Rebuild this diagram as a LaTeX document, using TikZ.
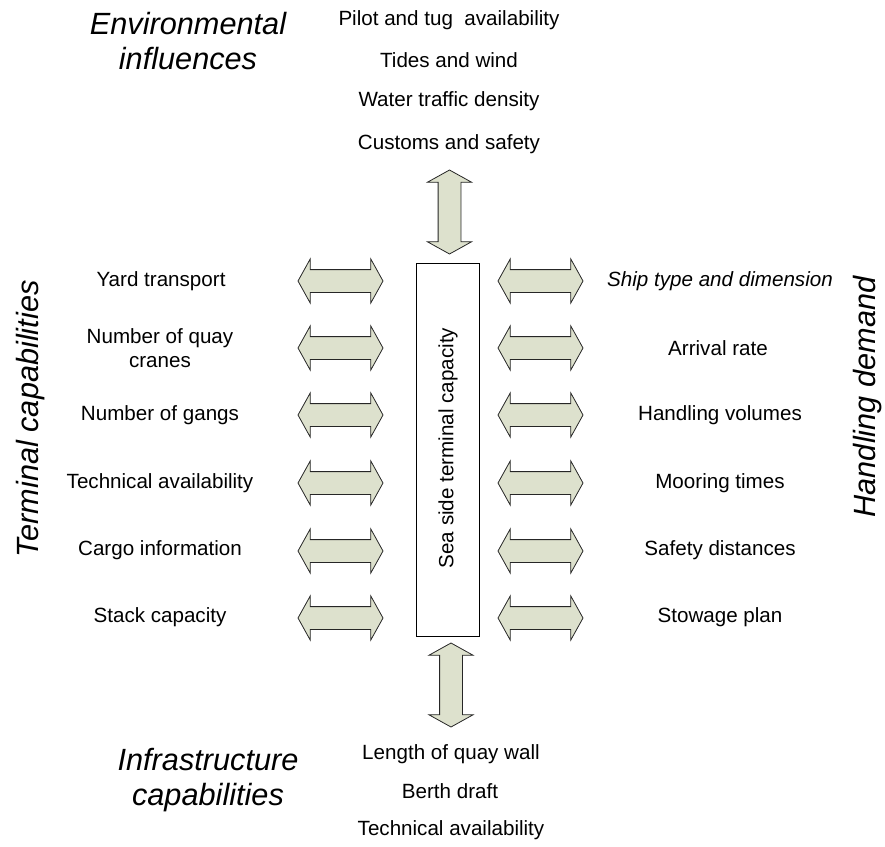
\documentclass[tikz,border=0pt]{standalone}
\usepackage{fontspec}
\setmainfont{Liberation Sans}
\usetikzlibrary{shapes.arrows}
\definecolor{arrowfill}{RGB}{221,225,205}
\tikzset{
  lbl/.style={font=\fontsize{20.6}{24}\selectfont, align=center, inner sep=0pt},
  biglbl/.style={font=\fontsize{30.7}{35}\selectfont\itshape, align=center, inner sep=0pt},
  dblarrow/.style={double arrow, draw=black!85, line width=0.8pt, fill=arrowfill,
    minimum height=85pt, inner xsep=0pt, inner ysep=11pt, outer sep=0pt,
    double arrow head extend=10.75pt, double arrow tip angle=122},
  capbox/.style={draw=black, line width=0.8pt, fill=white, minimum width=63pt, minimum height=373pt, inner sep=0pt}
}
\begin{document}
\begin{tikzpicture}[x=1pt,y=-1pt]
\useasboundingbox (0,0) rectangle (885,846);

% central box
\node[capbox] (box) at (448,450) {};
\node[lbl, rotate=90] (boxtxt) at (448,448) {Sea side terminal capacity};

% group labels
\node[biglbl] (env) at (188,41) {Environmental\\influences};
\node[biglbl] (infra) at (208,780) {Infrastructure\\capabilities};
\node[biglbl, rotate=90] (term) at (31,419) {Terminal capabilities};
\node[biglbl, rotate=90] (hand) at (868,397) {Handling demand};

% top list
\node[lbl] (t1) at (449,20) {Pilot and tug\ \ availability};
\node[lbl] (t2) at (449,60) {Tides and wind};
\node[lbl] (t3) at (449,101) {Water traffic density};
\node[lbl] (t4) at (449,144) {Customs and safety};

% bottom list
\node[lbl] (b1) at (451,754) {Length of quay wall};
\node[lbl] (b2) at (450,791) {Berth draft};
\node[lbl] (b3) at (451,830) {Technical availability};

% left list
\node[lbl] (l1) at (161,281) {Yard transport};
\node[lbl] (l2) at (160,348) {Number of quay\\cranes};
\node[lbl] (l3) at (160,415) {Number of gangs};
\node[lbl] (l4) at (160,483) {Technical availability};
\node[lbl] (l5) at (160,550) {Cargo information};
\node[lbl] (l6) at (160,617) {Stack capacity};

% right list
\node[lbl] (r1) at (720,281) {\itshape Ship type and dimension};
\node[lbl] (r2) at (718,348) {Arrival rate};
\node[lbl] (r3) at (720,415) {Handling volumes};
\node[lbl] (r4) at (720,483) {Mooring times};
\node[lbl] (r5) at (720,550) {Safety distances};
\node[lbl] (r6) at (720,617) {Stowage plan};

% vertical arrows
\node[dblarrow, rotate=90, minimum height=84pt] (at) at (449.5,212) {};
\node[dblarrow, rotate=90, minimum height=84pt] (ab) at (451,685) {};

% horizontal arrows
\foreach \y [count=\i] in {281,348,415,483,551,618} {
  \node[dblarrow] (al\i) at (340.5,\y) {};
  \node[dblarrow] (ar\i) at (540.5,\y) {};
}
\end{tikzpicture}
\end{document}
